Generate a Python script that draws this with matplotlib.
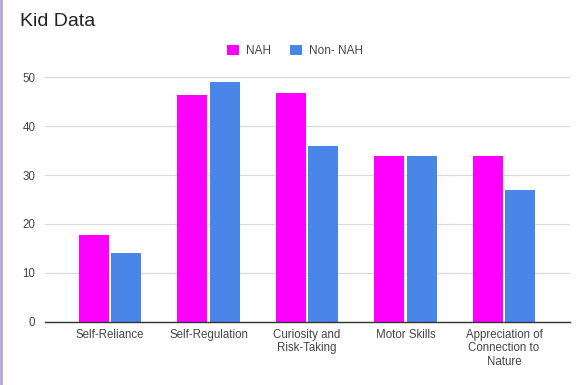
import matplotlib
matplotlib.use("Agg")
import matplotlib.pyplot as plt
import numpy as np
from matplotlib.lines import Line2D

plt.rcParams["font.family"] = ["Liberation Sans", "DejaVu Sans"]

categories = ["Self-Reliance", "Self-Regulation", "Curiosity and\nRisk-Taking",
              "Motor Skills", "Appreciation of\nConnection to\nNature"]
nah = [17.7, 46.4, 46.8, 33.8, 33.8]
non_nah = [14.0, 49.0, 35.9, 34.0, 27.0]
series_names = ["NAH", "Non- NAH"]
colors = ["#ff00ff", "#4a86e8"]
yticks = [0, 10, 20, 30, 40, 50]

fig = plt.figure(figsize=(5.86, 3.85), dpi=100)
ax = fig.add_axes([45 / 586, 1 - 321.7 / 385, 525 / 586, (321.7 - 77.3) / 385])

x = np.arange(len(categories))
w = 0.305
gap = 0.012
ax.bar(x - w / 2 - gap, nah, width=w, color=colors[0], label=series_names[0], zorder=3)
ax.bar(x + w / 2 + gap, non_nah, width=w, color=colors[1], label=series_names[1], zorder=3)

ax.set_xlim(-0.66, 4.67)
ax.set_ylim(0, 50)
ax.set_yticks(yticks)
ax.set_xticks(x)
ax.set_xticklabels(categories, fontsize=8.3, color="#444444", linespacing=1.2)
ax.tick_params(axis="y", labelsize=8.3, labelcolor="#444444", length=0, pad=7)
ax.tick_params(axis="x", length=0, pad=5)

ax.grid(axis="y", color="#d9d9d9", linewidth=0.9, zorder=0)
for side in ["top", "right", "left"]:
    ax.spines[side].set_visible(False)
ax.spines["bottom"].set_color("#333333")
ax.spines["bottom"].set_linewidth(1.0)
ax.spines["bottom"].set_zorder(4)

fig.text(20 / 586, 1 - 21 / 385, "Kid Data", fontsize=14, color="#222222",
         va="center", ha="left")

leg = fig.legend(loc="center", bbox_to_anchor=(295 / 586, 1 - 51 / 385), ncol=2,
                 frameon=False, fontsize=8.5, handlelength=1.0, handleheight=1.0,
                 handletextpad=0.6, columnspacing=1.6)
for t in leg.get_texts():
    t.set_color("#444444")

# thin accent rule along the left edge
fig.add_artist(Line2D([1 / 586, 1 / 586], [0, 1], transform=fig.transFigure,
                      color="#b4a7d6", linewidth=2.0))

fig.savefig("out.png", dpi=100, facecolor="white")
